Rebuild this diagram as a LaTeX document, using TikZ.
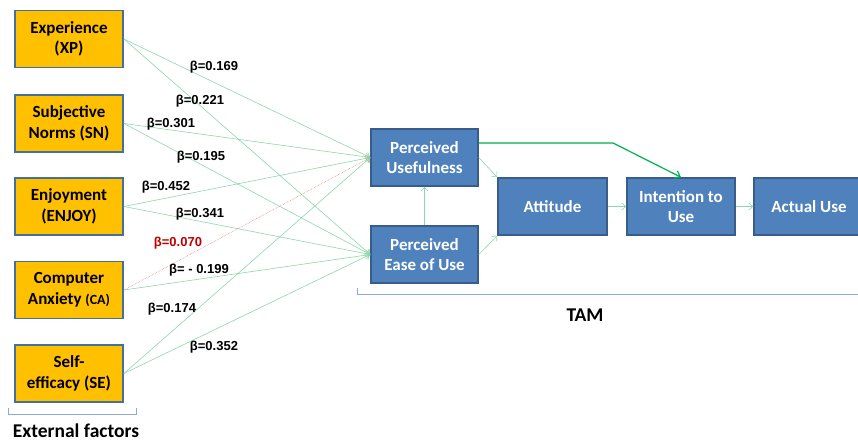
\documentclass[tikz,border=0pt]{standalone}
\usepackage{fontspec}
\newfontfamily\boxfont{Carlito}
\newfontfamily\betafont{Liberation Sans}
\usetikzlibrary{arrows.meta,calc}
\definecolor{extfill}{RGB}{255,192,0}
\definecolor{extline}{RGB}{65,113,156}
\definecolor{tamfill}{RGB}{79,129,189}
\definecolor{tamline}{RGB}{56,93,138}
\definecolor{linkgreen}{RGB}{140,215,170}
\definecolor{maingreen}{RGB}{0,176,80}
\definecolor{linkred}{RGB}{235,130,130}
\definecolor{betared}{RGB}{192,0,0}
\definecolor{bracecol}{RGB}{142,170,219}

\begin{document}
\begin{tikzpicture}[x=1pt,y=-1pt,
  extbox/.style={draw=extline,line width=1.8pt,fill=extfill,minimum width=108pt,minimum height=57pt,inner sep=0pt,align=center,font=\boxfont\bfseries\fontsize{17}{20.5}\selectfont},
  tambox/.style={draw=tamline,line width=1.5pt,fill=tamfill,text=white,minimum height=57pt,inner sep=0pt,align=center,font=\boxfont\bfseries\fontsize{17}{20.5}\selectfont},
  link/.style={linkgreen,line width=0.6pt,-{Straight Barb[length=4pt,width=7pt]}},
  weaklink/.style={linkred,line width=0.6pt,densely dotted,-{Straight Barb[length=4pt,width=7pt]}},
  mainlink/.style={maingreen,line width=1.2pt,-{Straight Barb[length=5pt,width=8pt]}},
  beta/.style={font=\betafont\bfseries\fontsize{13}{15}\selectfont,inner sep=0pt},
  bracket/.style={bracecol,line width=1pt},
  caption/.style={font=\boxfont\bfseries\fontsize{19.5}{23}\selectfont,inner sep=0pt}]
  \useasboundingbox (0,0) rectangle (858,443);
  \clip (0,0) rectangle (858,443);

  % external factors
  \node[extbox] (xp) at (69,39) {Experience\\(XP)};
  \node[extbox] (sn) at (69,123.5) {Subjective\\Norms (SN)};
  \node[extbox] (enjoy) at (69,206.5) {Enjoyment\\(ENJOY)};
  \node[extbox] (ca) at (69,290) {Computer\\Anxiety {\fontsize{14}{20.5}\selectfont(CA)}};
  \node[extbox] (se) at (69,373.5) {Self-\\efficacy (SE)};

  % TAM
  \node[tambox,minimum width=107pt] (pu) at (424.5,157.5) {Perceived\\Usefulness};
  \node[tambox,minimum width=107pt] (peou) at (424.5,254.5) {Perceived\\Ease of Use};
  \node[tambox,minimum width=109pt] (att) at (552.5,206.5) {Attitude};
  \node[tambox,minimum width=108pt] (itu) at (681,206.5) {Intention to\\Use};
  \node[tambox,minimum width=110pt] (au) at (809,206.5) {Actual Use};

  \draw[link] (xp.east) -- (pu.west);
  \draw[link] (xp.east) -- (peou.west);
  \draw[link] (sn.east) -- (pu.west);
  \draw[link] (sn.east) -- (peou.west);
  \draw[link] (enjoy.east) -- (pu.west);
  \draw[link] (enjoy.east) -- (peou.west);
  \draw[weaklink] (ca.east) -- (pu.west);
  \draw[link] (ca.east) -- (peou.west);
  \draw[link] (se.east) -- (pu.west);
  \draw[link] (se.east) -- (peou.west);

  \draw[link] (peou.north) -- (pu.south);
  \draw[link] (pu.east) -- (att.north west);
  \draw[link] (peou.east) -- (att.south west);
  \draw[link] (att.east) -- (itu.west);
  \draw[link] (itu.east) -- (au.west);
  \coordinate (bend) at (613,143);
  \draw[mainlink] (pu.east |- bend) -- (bend) -- (itu.north);

  % path coefficients
  \node[beta] (b1) at (214,67) {β=0.169};
  \node[beta] (b2) at (200,101) {β=0.221};
  \node[beta] (b3) at (171,124) {β=0.301};
  \node[beta] (b4) at (201,157) {β=0.195};
  \node[beta] (b5) at (166,187) {β=0.452};
  \node[beta] (b6) at (200,214) {β=0.341};
  \node[beta,text=betared] (b7) at (178,243) {β=0.070};
  \node[beta] (b8) at (199,270) {β= - 0.199};
  \node[beta] (b9) at (172,309) {β=0.174};
  \node[beta] (b10) at (214,347) {β=0.352};

  % brackets
  \draw[bracket] (8,408) -- (8,414) -- (136,414) -- (136,408);
  \node[caption] (ext) at (76,431) {External factors};
  \draw[bracket] (357,288) -- (357,294) -- (870,294);
  \node[caption] (tam) at (585,315) {TAM};
\end{tikzpicture}
\end{document}
